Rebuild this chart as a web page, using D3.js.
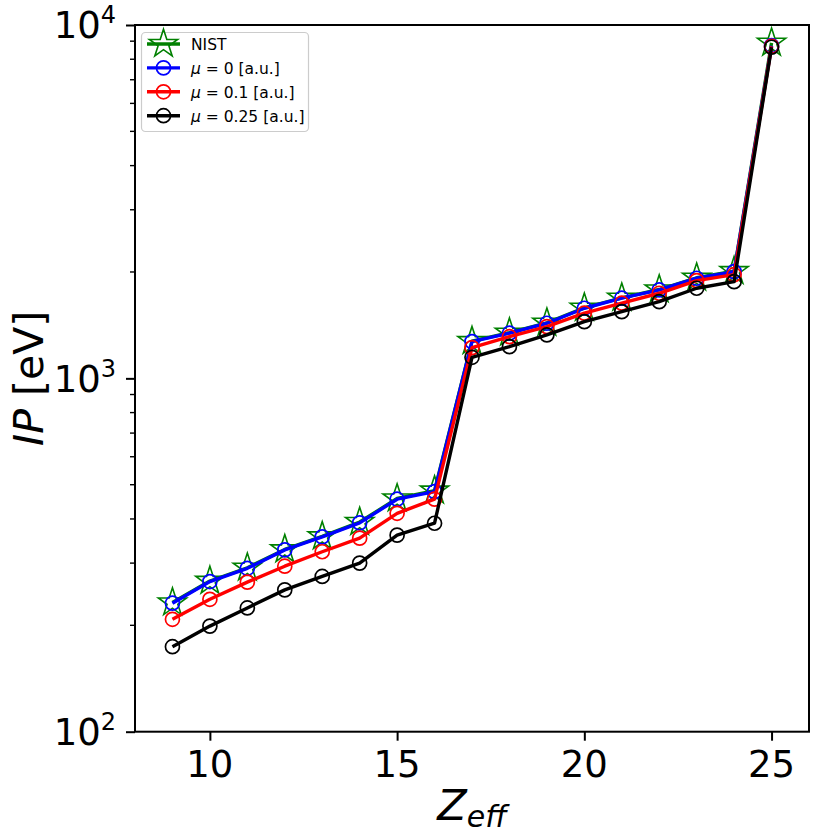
<!DOCTYPE html>
<html>
<head>
<meta charset="utf-8">
<script src="https://cdn.jsdelivr.net/npm/d3@7"></script>
<style>
  body { margin: 0; background: #fff; }
  svg { display: block; }
  text { font-family: 'DejaVu Sans', 'Bitstream Vera Sans', sans-serif; }
</style>
</head>
<body>
<svg id="chart" width="830" height="837"></svg>
<script>
// data
var zeff  = [9, 10, 11, 12, 13, 14, 15, 16, 17, 18, 19, 20, 21, 22, 23, 24, 25];
var nist  = [232, 267, 291, 328, 357, 392, 457, 481, 1274, 1346, 1436, 1583, 1690, 1784, 1926, 2010, 8900];
var mu0   = [231, 266, 290, 327, 356, 390, 455, 478, 1270, 1342, 1432, 1579, 1686, 1779, 1920, 2004, 8740];
var mu01  = [208, 237, 265, 294, 323, 353, 415, 455, 1222, 1312, 1401, 1529, 1632, 1741, 1890, 1965, 8700];
var mu025 = [174, 199, 224, 252, 275, 300, 360, 389, 1147, 1229, 1327, 1447, 1545, 1649, 1799, 1878, 8650];

var xTicks = [10, 15, 20, 25];
var yMajor = [100, 1000, 10000];
var yExp   = ["2", "3", "4"];

var seriesList = [
  {name: "NIST", values: nist, color: "#008000", marker: "star"},
  {name: "0", values: mu0, color: "#0000ff", marker: "circle"},
  {name: "0.1", values: mu01, color: "#ff0000", marker: "circle"},
  {name: "0.25", values: mu025, color: "#000000", marker: "circle"}
];

var svg = d3.select("#chart");
var pLeft = 135, pRight = 809, pTop = 25, pBottom = 731.7;
var font = "DejaVu Sans";

var x = d3.scaleLinear().domain([8, 26]).range([pLeft, pRight]);
var y = d3.scaleLog().domain([100, 10000]).range([pBottom, pTop]);

// star like matplotlib '*'
function starPath(r) {
  var pts = [];
  for (var i = 0; i < 10; i++) {
    var rr = (i % 2 == 0) ? r : r * 0.381966;
    var a = -Math.PI / 2 + i * Math.PI / 5;
    pts.push([rr * Math.cos(a), rr * Math.sin(a)]);
  }
  return "M" + pts.map(function(p) { return p[0].toFixed(2) + "," + p[1].toFixed(2); }).join("L") + "Z";
}

var line = d3.line()
  .x(function(d) { return x(d.z); })
  .y(function(d) { return y(d.v); });

var plot = svg.append("g");

seriesList.forEach(function(s) {
  var pts = zeff.map(function(z, i) { return {z: z, v: s.values[i]}; });
  plot.append("path")
    .datum(pts)
    .attr("d", line)
    .attr("fill", "none")
    .attr("stroke", s.color)
    .attr("stroke-width", 3.4)
    .attr("stroke-linejoin", "round");
  if (s.marker == "star") {
    plot.selectAll(null).data(pts).enter().append("path")
      .attr("d", starPath(14.8))
      .attr("transform", function(d) { return "translate(" + x(d.z) + "," + y(d.v) + ")"; })
      .attr("fill", "none")
      .attr("stroke", s.color)
      .attr("stroke-width", 1.6);
  } else {
    plot.selectAll(null).data(pts).enter().append("circle")
      .attr("cx", function(d) { return x(d.z); })
      .attr("cy", function(d) { return y(d.v); })
      .attr("r", 7)
      .attr("fill", "none")
      .attr("stroke", s.color)
      .attr("stroke-width", 1.7);
  }
});

// axes
var xAxis = d3.axisBottom(x).tickValues(xTicks).tickSize(9).tickFormat("");
var gx = svg.append("g").attr("transform", "translate(0," + pBottom + ")").call(xAxis);
gx.select(".domain").remove();
gx.selectAll("line").attr("stroke", "#000").attr("stroke-width", 2);

gx.selectAll(null).data(xTicks).enter().append("text")
  .attr("x", function(d) { return x(d); })
  .attr("y", 45)
  .attr("text-anchor", "middle")
  .attr("font-family", font)
  .attr("font-size", 37)
  .attr("fill", "#000")
  .text(function(d) { return d; });

var yAxis = d3.axisLeft(y).tickValues(yMajor).tickSize(9).tickFormat("");
var gy = svg.append("g").attr("transform", "translate(" + pLeft + ",0)").call(yAxis);
gy.select(".domain").remove();
gy.selectAll("line").attr("stroke", "#000").attr("stroke-width", 2);

var minor = y.ticks().filter(function(v) { return yMajor.indexOf(v) < 0; });
gy.selectAll(null).data(minor).enter().append("line")
  .attr("x1", -5).attr("x2", 0)
  .attr("y1", function(d) { return y(d); })
  .attr("y2", function(d) { return y(d); })
  .attr("stroke", "#000").attr("stroke-width", 1.4);

yMajor.forEach(function(v, i) {
  var t = gy.append("text")
    .attr("x", -19)
    .attr("y", y(v) + 13.3)
    .attr("text-anchor", "end")
    .attr("font-family", font)
    .attr("font-size", 37)
    .attr("fill", "#000");
  t.append("tspan").text("10");
  t.append("tspan").attr("font-size", 24).attr("dy", -15).text(yExp[i]);
});

// frame
svg.append("rect")
  .attr("x", pLeft).attr("y", pTop)
  .attr("width", pRight - pLeft).attr("height", pBottom - pTop)
  .attr("fill", "none").attr("stroke", "#000").attr("stroke-width", 2);

// axis labels
var xl = svg.append("text")
  .attr("x", (pLeft + pRight) / 2)
  .attr("y", 820)
  .attr("text-anchor", "middle")
  .attr("font-family", font)
  .attr("font-size", 43)
  .attr("fill", "#000");
xl.append("tspan").attr("font-style", "italic").text("Z");
xl.append("tspan").attr("font-style", "italic").attr("font-size", 30).attr("dy", 7).text("eff");

var yl = svg.append("text")
  .attr("transform", "translate(43," + ((pTop + pBottom) / 2) + ") rotate(-90)")
  .attr("text-anchor", "middle")
  .attr("font-family", font)
  .attr("font-size", 41)
  .attr("fill", "#000");
yl.append("tspan").attr("font-style", "italic").text("IP");
yl.append("tspan").text(" [eV]");

// legend
var lg = svg.append("g");
lg.append("rect")
  .attr("x", 141.5).attr("y", 32.5)
  .attr("width", 167).attr("height", 99)
  .attr("rx", 4)
  .attr("fill", "#fff")
  .attr("stroke", "#cccccc")
  .attr("stroke-width", 1.2);

seriesList.forEach(function(s, i) {
  var cy = 44 + i * 23.9;
  var row = lg.append("g");
  row.append("line")
    .attr("x1", 147).attr("x2", 180)
    .attr("y1", cy).attr("y2", cy)
    .attr("stroke", s.color).attr("stroke-width", 3.4);
  if (s.marker == "star") {
    row.append("path")
      .attr("d", starPath(14.8))
      .attr("transform", "translate(163.5," + cy + ")")
      .attr("fill", "none").attr("stroke", s.color).attr("stroke-width", 1.6);
  } else {
    row.append("circle")
      .attr("cx", 163.5).attr("cy", cy).attr("r", 7)
      .attr("fill", "none").attr("stroke", s.color).attr("stroke-width", 1.7);
  }
  var t = row.append("text")
    .attr("x", 191)
    .attr("y", cy + 6)
    .attr("font-family", font)
    .attr("font-size", 15.5)
    .attr("fill", "#000");
  if (s.marker == "star") {
    t.text(s.name);
  } else {
    t.append("tspan").attr("font-style", "italic").text("\u03bc");
    t.append("tspan").text(" = " + s.name + " [a.u.]");
  }
});
</script>
</body>
</html>
